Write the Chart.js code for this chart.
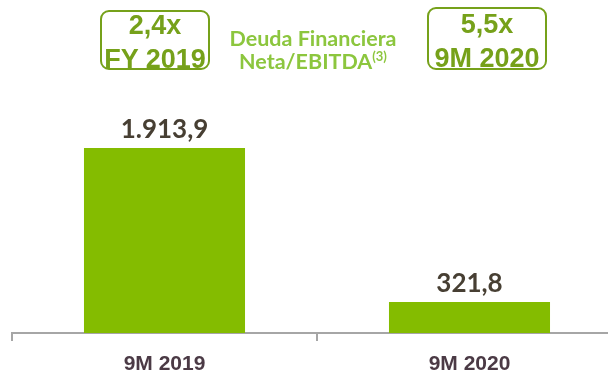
<!DOCTYPE html>
<html>
<head>
<meta charset="utf-8">
<script src="https://cdn.jsdelivr.net/npm/chart.js@4"></script>
<style>
  html, body { margin: 0; padding: 0; background: #fff; overflow: hidden; width: 608px; height: 372px; }
  #wrap { position: relative; width: 608px; height: 372px; }
  #chart { position: absolute; left: 0; top: 0; }
  .box {
    position: absolute; box-sizing: border-box;
    border: 2.5px solid #76a11a; border-radius: 9px;
    color: #76a11a; font-family: "Liberation Sans", Arial, sans-serif; font-weight: bold;
    font-size: 27px; line-height: 35px; text-align: center; overflow: visible;
  }
  .mid {
    position: absolute; left: 203px; width: 220px; top: 27px;
    color: #8cc63e; font-family: Lato, "Open Sans", sans-serif; font-weight: bold;
    font-size: 21.5px; line-height: 23px; text-align: center;
  }
  .mid sup { font-size: 13px; vertical-align: 8px; line-height: 0; }
</style>
</head>
<body>
<div id="wrap">
  <canvas id="chart" width="624" height="372"></canvas>
  <div class="box" style="left:100px; top:10px; width:110px; height:60px;"><div style="margin-top:-4px">2,4x</div><div style="margin-top:-1px">FY 2019</div></div>
  <div class="mid">Deuda Financiera<br>Neta/EBITDA<sup>(3)</sup></div>
  <div class="box" style="left:427px; top:7px; width:120px; height:63px;"><div style="margin-top:-2px">5,5x</div><div style="margin-top:-1px">9M 2020</div></div>
</div>
<script>
const periods = ["9M 2019", "9M 2020"];
const deuda = [1913.9, 321.8];

// 1913.9 -> "1.913,9"
function fmt(v) {
    const parts = v.toFixed(1).split(".");
    const ent = parts[0].replace(/\B(?=(\d{3})+(?!\d))/g, ".");
    return ent + "," + parts[1];
}

const valueLabels = {
    id: "valueLabels",
    afterDatasetsDraw(chart) {
        const c = chart.ctx;
        const meta = chart.getDatasetMeta(0);
        c.save();
        c.fillStyle = "#473f33";
        c.font = "bold 26px Lato, 'Open Sans', sans-serif";
        c.textAlign = "center";
        c.textBaseline = "middle";
        meta.data.forEach((bar, i) => {
            c.fillText(fmt(chart.data.datasets[0].data[i]), bar.x, bar.y - 18);
        });
        c.restore();
    }
};

const ctx = document.getElementById("chart").getContext("2d");
const chart = new Chart(ctx, {
    type: "bar",
    data: {
        labels: periods,
        datasets: [{
            data: deuda,
            backgroundColor: "#84bc00",
            borderWidth: 0,
            barPercentage: 0.528,
            categoryPercentage: 1
        }]
    },
    options: {
        responsive: false,
        animation: false,
        layout: {padding: {left: 12, right: 2, top: 40, bottom: 0}},
        plugins: {legend: {display: false}, tooltip: {enabled: false}},
        scales: {
            x: {
                afterFit(scale) { scale.height = 39; },
                grid: {
                    offset: true,
                    drawOnChartArea: false,
                    drawTicks: true,
                    tickLength: 8,
                    color: "#a6a6a6",
                    lineWidth: 2
                },
                border: {display: true, color: "#a6a6a6", width: 2},
                ticks: {
                    color: "#4b3a45",
                    padding: 13,
                    font: {family: "'Liberation Sans', Arial, sans-serif", weight: "bold", size: 21, lineHeight: 1}
                }
            },
            y: {
                display: false,
                min: 0,
                max: 3030
            }
        }
    },
    plugins: [valueLabels]
});
</script>
</body>
</html>
